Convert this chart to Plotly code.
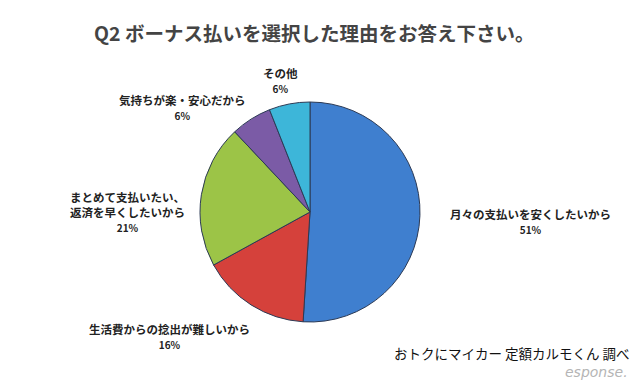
import plotly.graph_objects as go

W, H = 640, 384

categories = ["月々の支払いを安くしたいから", "生活費からの捻出が難しいから",
              "まとめて支払いたい、<br>返済を早くしたいから", "気持ちが楽・安心だから", "その他"]
values = [51, 16, 21, 6, 6]
colors = ["#3f7fcf", "#d5413b", "#9cc447", "#7b5ba6", "#3db6d9"]

# label anchor positions in pixels (center x, top y of label)
label_pos = [(530, 204), (169, 319), (127, 187), (182, 90), (280, 63)]

cx, cy, r = 310, 212, 110

fig = go.Figure(go.Pie(
    labels=[c.replace("<br>", "") for c in categories],
    values=values,
    sort=False,
    direction="clockwise",
    rotation=0,
    textinfo="none",
    hoverinfo="label+percent",
    marker=dict(colors=colors, line=dict(color="#2c3a55", width=1)),
    domain=dict(x=[(cx - r) / W, (cx + r) / W], y=[1 - (cy + r) / H, 1 - (cy - r) / H]),
    showlegend=False,
))

FONT = "Noto Sans CJK JP, sans-serif"
ann = []
for (px, py), cat, v in zip(label_pos, categories, values):
    ann.append(dict(
        x=px / W, y=1 - py / H, xref="paper", yref="paper", xanchor="center", yanchor="top",
        text=f"<b>{cat}</b><br><span style='font-size:10px'><b>{v}%</b></span>",
        showarrow=False, align="center",
        font=dict(family=FONT, size=11.5, color="#222222"),
    ))

ann.append(dict(x=314 / W, y=1 - 32 / H, xref="paper", yref="paper", xanchor="center", yanchor="middle",
                text="<b>Q2 ボーナス払いを選択した理由をお答え下さい。</b>", showarrow=False,
                font=dict(family=FONT, size=19.5, color="#444444")))
ann.append(dict(x=632 / W, y=1 - 353 / H, xref="paper", yref="paper", xanchor="right", yanchor="middle",
                text="おトクにマイカー 定額カルモくん 調べ", showarrow=False,
                font=dict(family=FONT, size=13.5, color="#111111")))
ann.append(dict(x=630 / W, y=1 - 372 / H, xref="paper", yref="paper", xanchor="right", yanchor="middle",
                text="<i>esponse.</i>", showarrow=False,
                font=dict(family="DejaVu Sans, sans-serif", size=14, color="#b5b5b5")))

fig.update_layout(
    width=W, height=H,
    margin=dict(l=0, r=0, t=0, b=0),
    paper_bgcolor="white", plot_bgcolor="white",
    annotations=ann,
)

fig.write_html("out.html", config={"displayModeBar": False},
               post_script="document.body.style.margin='0';document.body.style.overflow='hidden';")
